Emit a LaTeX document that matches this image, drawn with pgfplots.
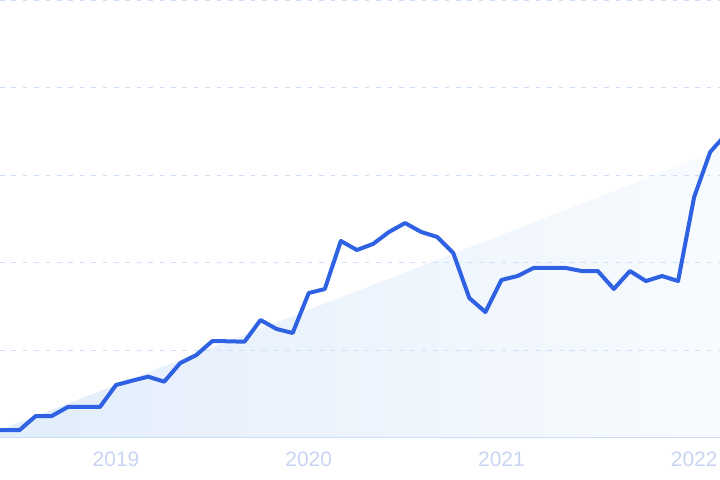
\documentclass[border=0pt]{standalone}
\usepackage{pgfplots}
\pgfplotsset{compat=1.18}
\usepackage{fontspec}
\setmainfont{Liberation Sans}
\definecolor{lineblue}{HTML}{2F62E3}
\definecolor{gridblue}{HTML}{CCDFFA}
\definecolor{baseblue}{HTML}{C8DEFB}
\definecolor{ticklab}{HTML}{C9D4F4}
\definecolor{fillL}{HTML}{E2EDFB}
\definecolor{fillR}{HTML}{F8FBFE}
\begin{document}
\begin{tikzpicture}
\begin{axis}[
  set layers,
  at={(0,0)}, anchor=south west,
  scale only axis, width=360bp, height=219bp,
  xmin=-0.224, xmax=44.61, ymin=0, ymax=5,
  axis line style={draw=none},
  major tick length=0pt,
  xtick={7,19,31,43}, xticklabels={2019,2020,2021,2022},
  ytick={1,2,3,4,5}, yticklabels={},
  ymajorgrids,
  major grid style={gridblue, line width=0.6bp, dash pattern=on 2.3bp off 3.4bp},
  xticklabel style={font=\fontsize{10.5}{12}\selectfont, text=ticklab, yshift=-3.5bp},
]
\addplot[on layer=axis background, draw=none, left color=fillL, right color=fillR]
  coordinates {(-0.224,0.091) (44.61,3.29)} \closedcycle;
\draw[baseblue, line width=0.8bp] (rel axis cs:0,0) -- (rel axis cs:1,0);
\addplot[lineblue, line width=2bp, line join=round, line cap=round] coordinates {
(-1,0.091) (0,0.091) (1,0.091) (2,0.251) (3,0.251) (4,0.354) (5,0.354) (6,0.354)
(7,0.605) (8,0.654) (9,0.700) (10,0.643) (11,0.856) (12,0.947) (13,1.107)
(14,1.104) (15,1.099) (16,1.347) (17,1.244) (18,1.199) (19,1.655) (20,1.701)
(21,2.249) (22,2.146) (23,2.215) (24,2.352) (25,2.454) (26,2.352) (27,2.295)
(28,2.112) (29,1.598) (30,1.438) (31,1.804) (32,1.849) (33,1.941) (34,1.941)
(35,1.941) (36,1.906) (37,1.906) (38,1.701) (39,1.906) (40,1.792) (41,1.849)
(42,1.792) (43,2.751) (44,3.265) (45,3.470)
};
\end{axis}
\pgfresetboundingbox
\path (0,-21bp) rectangle (360bp,219bp);
\end{tikzpicture}
\end{document}
